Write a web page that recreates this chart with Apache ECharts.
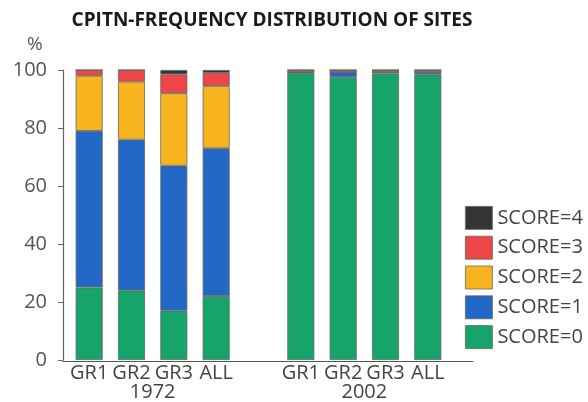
<!DOCTYPE html>
<html><head><meta charset="utf-8">
<script src="https://cdn.jsdelivr.net/npm/echarts@6/dist/echarts.min.js"></script>
<style>html,body{margin:0;padding:0;background:#fff}#c{width:588px;height:402px}</style>
</head><body><div id="c"></div>
<script>
const categories = ['GR1','GR2','GR3','ALL','','GR1','GR2','GR3','ALL'];
const yearLabels = ['','','','','1972','','','','','','','','','','2002','','','',''];
const score0 = [25, 24, 17, 22, '-', 99, 97.5, 98.8, 98.5];
const score1 = [54, 52, 50, 51, '-', 0.3, 1.8, 0.5, 0.8];
const score2 = [19, 20, 25, 21.5, '-', 0, 0, 0, 0];
const score3 = [2, 4, 6.5, 4.5, '-', 0.7, 0.7, 0.7, 0.7];
const score4 = [0, 0, 1.5, 1, '-', 0, 0, 0, 0];
const seriesNames = ['SCORE=0','SCORE=1','SCORE=2','SCORE=3','SCORE=4'];
const seriesData = [score0, score1, score2, score3, score4];
const colors = ['#17a46b','#2468c6','#f8b41e','#ee4646','#353535'];
const yTicks = {min:0, max:100, interval:20};
const font = '"Open Sans", sans-serif';

const chart = echarts.init(document.getElementById('c'));
chart.setOption({
  animation:false,
  title:{text:'CPITN-FREQUENCY DISTRIBUTION OF SITES', left:267, textAlign:'center', top:6,
    textStyle:{fontFamily:font, fontWeight:'bold', fontSize:19, color:'#1a1a1a'}},
  graphic:[{type:'text', left:27, top:35, style:{text:'%', font:'19px '+font, fill:'#555'}}],
  legend:{orient:'vertical', left:460, top:201, itemWidth:27, itemHeight:23, itemGap:6, icon:'rect',
    data:seriesNames.slice().reverse(),
    textStyle:{fontFamily:font, fontSize:20, color:'#444'},
    itemStyle:{borderColor:'#666', borderWidth:0.8}},
  grid:[
    {left:68, top:70, width:381, height:291},
    {left:63, top:70, width:410, height:291}
  ],
  xAxis:[
    {type:'category', gridIndex:0, data:categories,
      axisLine:{show:false}, axisTick:{show:false},
      axisLabel:{fontFamily:font, fontSize:20, color:'#444', margin:3, interval:0}},
    {type:'category', gridIndex:0, data:yearLabels, boundaryGap:false, position:'bottom', offset:19,
      axisLine:{show:false}, axisTick:{show:false},
      axisLabel:{fontFamily:font, fontSize:20, color:'#444', margin:3, interval:0}},
    {type:'value', gridIndex:1, min:0, max:1, axisLine:{show:true, lineStyle:{color:'#555', width:1.2}},
      axisTick:{show:false}, axisLabel:{show:false}, splitLine:{show:false}}
  ],
  yAxis:[
    {type:'value', gridIndex:0, min:yTicks.min, max:yTicks.max, interval:yTicks.interval, offset:5,
      axisLine:{show:true, lineStyle:{color:'#666', width:1.2}},
      axisTick:{show:true, length:5, lineStyle:{color:'#666'}},
      axisLabel:{fontFamily:font, fontSize:20, color:'#555', margin:16},
      splitLine:{show:false}},
    {type:'value', gridIndex:1, show:false}
  ],
  series: seriesNames.map((n,i)=>({
    name:n, type:'bar', stack:'s', xAxisIndex:0, yAxisIndex:0, barWidth:27,
    data:seriesData[i],
    itemStyle:{color:colors[i], borderColor:'#666', borderWidth:0.8}
  }))
});
</script></body></html>
